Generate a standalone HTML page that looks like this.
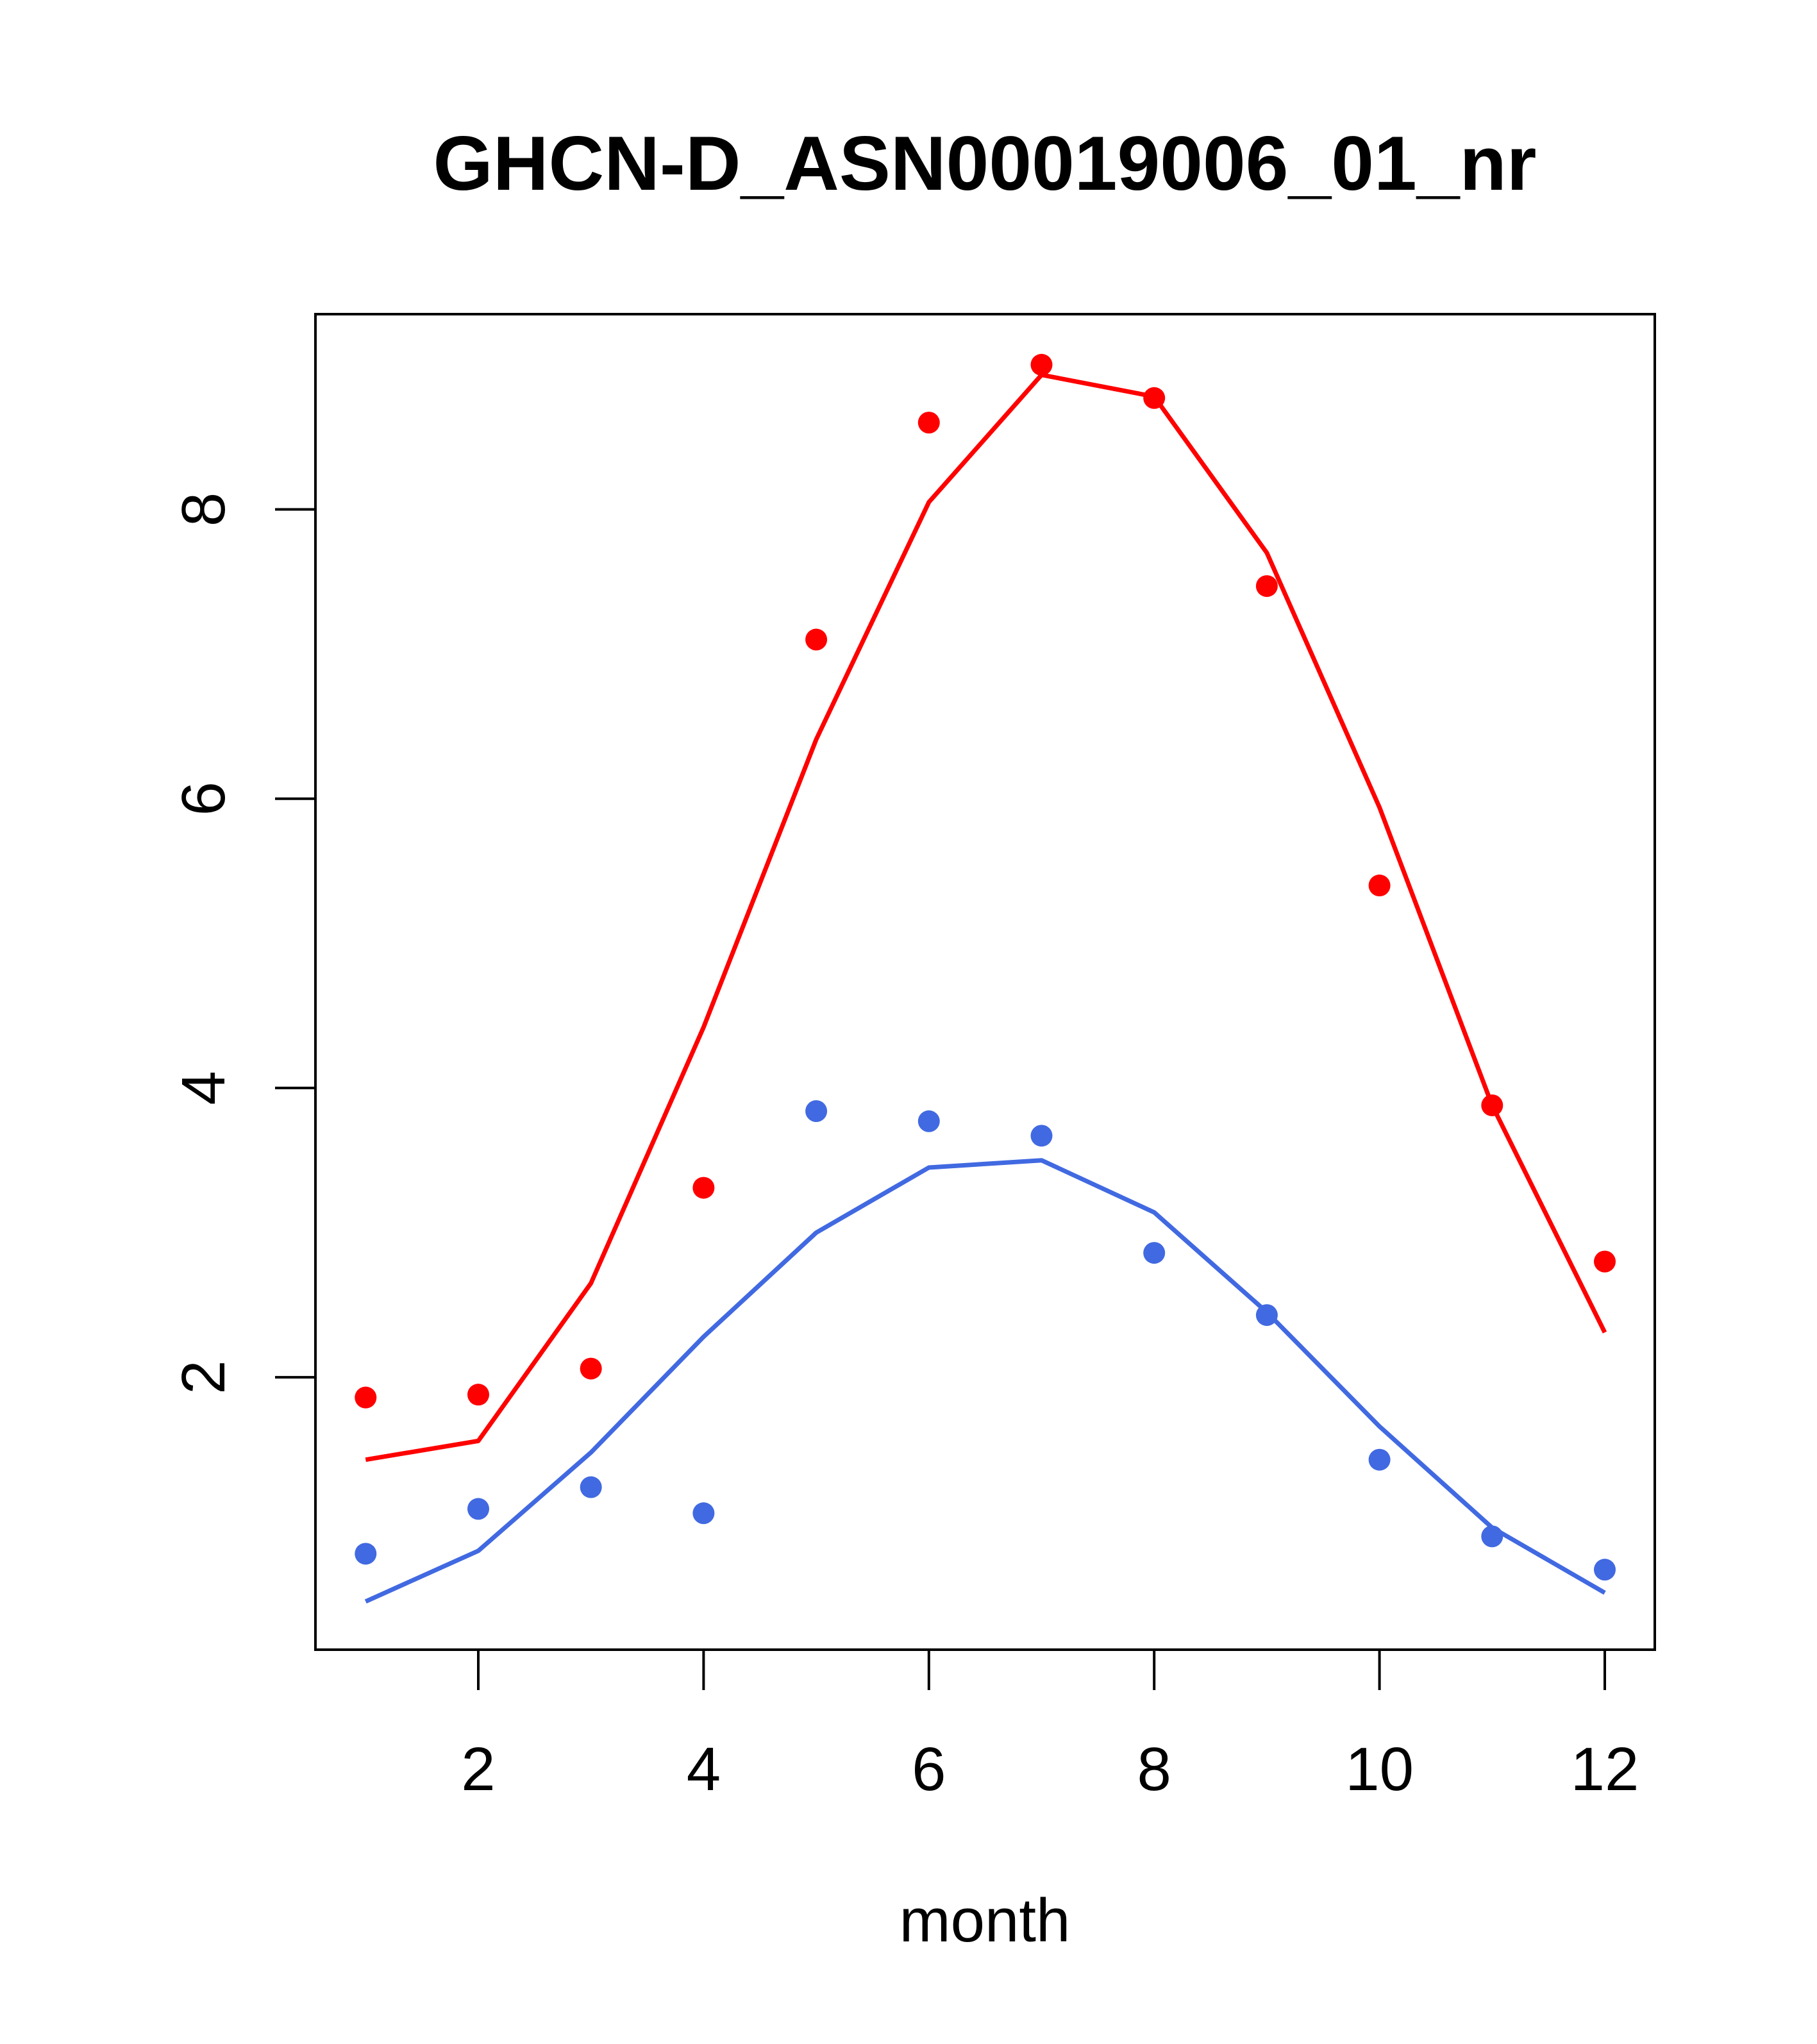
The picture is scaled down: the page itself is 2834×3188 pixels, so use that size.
<!DOCTYPE html>
<html><head><meta charset="utf-8"><style>
html,body{margin:0;padding:0;background:#fff;}
svg{display:block;font-family:"Liberation Sans",Arial,sans-serif;}
</style></head><body>
<svg id="chart" width="2834" height="3188" viewBox="0 0 2834 3188" xmlns="http://www.w3.org/2000/svg">
<rect width="2834" height="3188" fill="#fff"/>
<text x="1536" y="296" font-size="120" font-weight="bold" text-anchor="middle">GHCN-D_ASN00019006_01_nr</text>
<rect x="492" y="490" width="2089" height="2083" fill="none" stroke="#000" stroke-width="4"/>
<text x="1536" y="3028" font-size="96" text-anchor="middle">month</text>
<g id="axes"></g>
<g id="series"></g>
</svg>
<script>
const months = [1,2,3,4,5,6,7,8,9,10,11,12];
const redPoints = [1.86,1.88,2.06,3.31,7.10,8.60,9.00,8.77,7.47,5.40,3.88,2.80];
const redLine = [1.43,1.56,2.65,4.42,6.41,8.05,8.93,8.78,7.70,5.94,3.88,2.31];
const bluePoints = [0.78,1.09,1.24,1.06,3.84,3.77,3.67,2.86,2.43,1.43,0.90,0.67];
const blueLine = [0.45,0.80,1.48,2.28,3.00,3.45,3.50,3.14,2.45,1.66,0.96,0.51];
const xTicks = [2,4,6,8,10,12];
const yTicks = [2,4,6,8];

const NS = "http://www.w3.org/2000/svg";
function xs(v){ return 746 + (v-2)*175.7; }
function ys(v){ return 794.5 + (8-v)*225.6; }
function mk(tag, attrs, parent){
  const e = document.createElementNS(NS, tag);
  for (const k in attrs) e.setAttribute(k, attrs[k]);
  parent.appendChild(e);
  return e;
}
const axes = document.getElementById('axes');
const series = document.getElementById('series');

xTicks.forEach(t => {
  const l = mk('line', {x1: xs(t), x2: xs(t), y1: 2573, y2: 2636, stroke: '#000', 'stroke-width': 4}, axes);
  
  
  const tx = mk('text', {x: xs(t), y: 2792, 'font-size': 96, 'text-anchor': 'middle'}, axes);
  tx.textContent = t;
  
  
});
yTicks.forEach(t => {
  const l = mk('line', {x1: 429, x2: 492, y1: ys(t), y2: ys(t), stroke: '#000', 'stroke-width': 4}, axes);
  
  
  const tx = mk('text', {x: 0, y: 0, 'font-size': 96, 'text-anchor': 'middle', transform: 'translate(350,' + ys(t) + ') rotate(-90)'}, axes);
  tx.textContent = t;
  
  
});

function drawLine(vals, color, name){
  const p = mk('polyline', {points: months.map((m,i) => xs(m) + ',' + ys(vals[i])).join(' '), fill: 'none', stroke: color, 'stroke-width': 7, 'stroke-linejoin': 'round'}, series);
  
  
}
function drawPoints(vals, color, name){
  months.forEach((m,i) => {
    const c = mk('circle', {cx: xs(m), cy: ys(vals[i]), r: 17, fill: color}, series);
    
    
  });
}
drawLine(redLine, '#ff0000', 'red-fit-line');
drawLine(blueLine, '#4169e1', 'blue-fit-line');
drawPoints(redPoints, '#ff0000', 'red-point');
drawPoints(bluePoints, '#4169e1', 'blue-point');
</script>
</body></html>
